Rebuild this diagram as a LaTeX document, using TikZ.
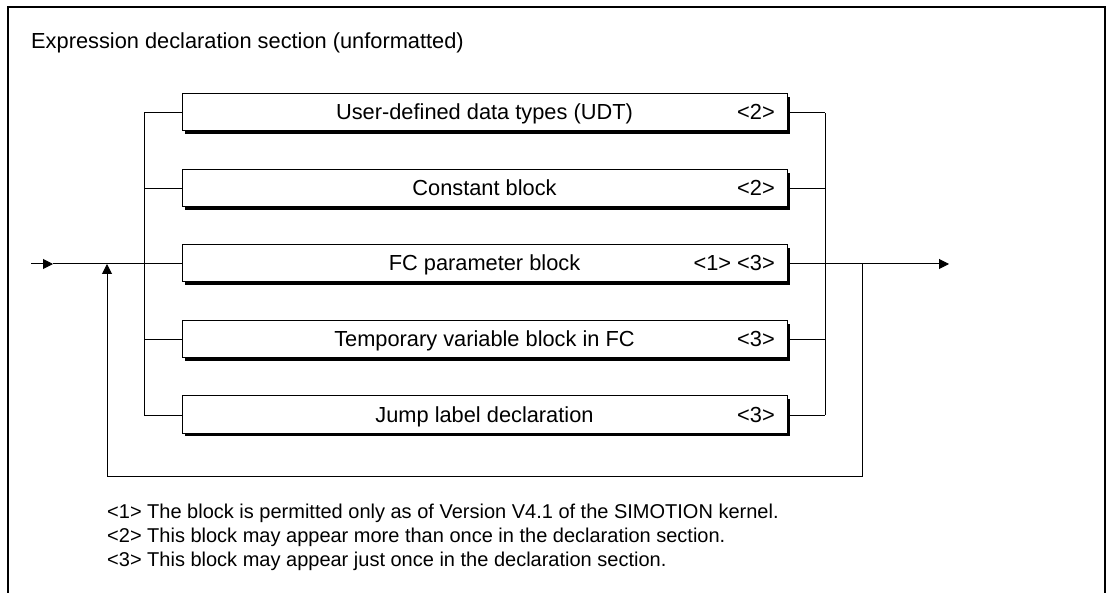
\documentclass[tikz,border=0pt]{standalone}
\usepackage{fontspec}
\setmainfont{Liberation Sans}
\usetikzlibrary{arrows.meta,shadows}
\tikzset{
  blk/.style={draw=black, line width=1pt, fill=white, minimum width=605pt, minimum height=37pt, inner sep=0pt,
    drop shadow={shadow xshift=3pt, shadow yshift=-3pt, fill=black, opacity=1}},
  txt/.style={font=\fontsize{21.8pt}{26pt}\selectfont, inner sep=0pt},
  note/.style={font=\fontsize{20pt}{24pt}\selectfont, inner sep=0pt},
  wire/.style={draw=black, line width=1pt},
  tip/.style={-{Triangle[length=10pt,width=10pt]}},
}
\begin{document}
\begin{tikzpicture}[x=1pt,y=-1pt]
\useasboundingbox (0,0) rectangle (1111,593);
% frame
\draw[line width=2pt] (8,593) -- (8,7) -- (1105,7) -- (1105,593);
\node[txt, anchor=base west] (title) at (31,49) {Expression declaration section (unformatted)};
% boxes
\foreach \n/\y/\t/\g in {1/113/{User-defined data types (UDT)}/{<2>},
                          2/189/{Constant block}/{<2>},
                          3/264/{FC parameter block}/{<1> <3>},
                          4/340/{Temporary variable block in FC}/{<3>},
                          5/415/{Jump label declaration}/{<3>}}{
  \node[blk] (b\n) at (484.5,\y-0.5) {};
  \node[txt, anchor=base] (t\n) at (484.5,\y+7) {\t};
  \node[txt, anchor=base east] (g\n) at (775,\y+7) {\g};
  \coordinate (l\n) at (144,\y);
  \coordinate (r\n) at (825,\y);
  \draw[wire] (l\n) -- (b\n.west |- l\n);
  \draw[wire] (b\n.east |- r\n) -- (r\n);
}
\draw[wire] (l1) -- (l5);
\draw[wire] (r1) -- (r5);
% entry
\coordinate (start) at (31,264);
\coordinate (entrytip) at (53,264);
\coordinate (loopL) at (107,264);
\coordinate (loopLB) at (107,476);
\coordinate (loopR) at (862,264);
\coordinate (loopRB) at (862,476);
\coordinate (exit) at (949,264);
\draw[wire,tip] (start) -- (entrytip);
\draw[wire] (entrytip) -- (b3.west |- l3);
\draw[wire,tip] (r3) -- (exit);
\draw[wire,tip] (loopR) -- (loopRB) -- (loopLB) -- (loopL);
% footnotes
\node[note, anchor=base west] (f1) at (107,518) {<1> The block is permitted only as of Version V4.1 of the SIMOTION kernel.};
\node[note, anchor=base west] (f2) at (107,542) {<2> This block may appear more than once in the declaration section.};
\node[note, anchor=base west] (f3) at (107,566) {<3> This block may appear just once in the declaration section.};
\end{tikzpicture}
\end{document}
